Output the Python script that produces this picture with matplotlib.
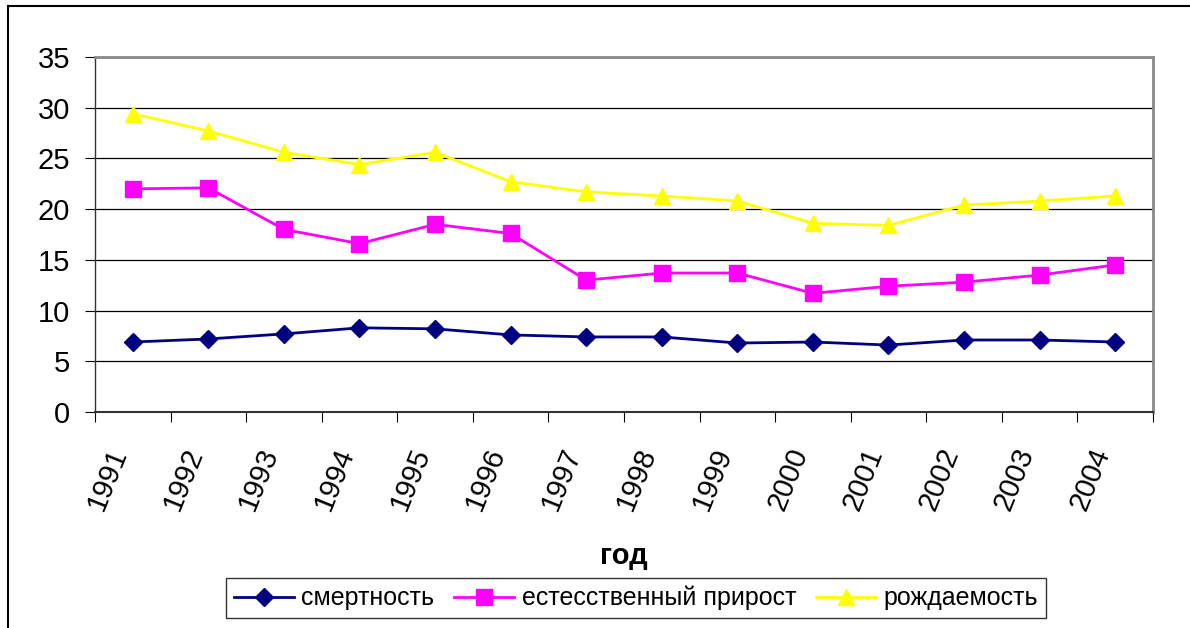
import matplotlib
matplotlib.use('Agg')
import matplotlib.pyplot as plt
from matplotlib.lines import Line2D
import numpy as np

plt.rcParams['font.family'] = ['Liberation Sans', 'DejaVu Sans']

years = ['1991', '1992', '1993', '1994', '1995', '1996', '1997',
         '1998', '1999', '2000', '2001', '2002', '2003', '2004']
mortality = [6.9, 7.2, 7.7, 8.3, 8.2, 7.6, 7.4, 7.4, 6.8, 6.9, 6.6, 7.1, 7.1, 6.9]
natural_growth = [22.0, 22.1, 18.0, 16.6, 18.5, 17.6, 13.0, 13.7, 13.7, 11.7,
                  12.4, 12.8, 13.5, 14.5]
birth_rate = [29.4, 27.7, 25.6, 24.4, 25.6, 22.7, 21.7, 21.3, 20.8, 18.6,
              18.4, 20.4, 20.8, 21.3]

labels = ['смертность', 'естесственный прирост', 'рождаемость']
colors = ['#000080', '#FF00FF', '#FFFF00']
markers = ['D', 's', '^']
msizes = [9, 11, 11]

fig = plt.figure(figsize=(11.9, 6.28), dpi=100)
ax = fig.add_axes([95 / 1190, 1 - 412 / 628, (1153 - 95) / 1190, (412 - 57) / 628])

x = np.arange(len(years))
for vals, lab, col, mk, ms in zip([mortality, natural_growth, birth_rate],
                                  labels, colors, markers, msizes):
    ax.plot(x, vals, color=col, marker=mk, markersize=ms, linewidth=2,
            label=lab, zorder=3)

ax.set_xlim(-0.5, len(years) - 0.5)
ax.set_ylim(0, 35)
ax.set_yticks(range(0, 36, 5))
ax.yaxis.grid(True, color='black', linewidth=0.9)
ax.set_axisbelow(True)

ax.set_xticks(x)
ax.set_xticklabels(years, rotation=68, ha='right')
ax.set_xticks(np.arange(-0.5, len(years), 1), minor=True)
ax.tick_params(axis='x', which='major', length=0, pad=23, labelsize=21)
ax.tick_params(axis='x', which='minor', length=7, width=0.8, direction='out')
ax.tick_params(axis='y', length=7, width=0.8, pad=11, labelsize=21)

for side in ['top', 'right']:
    ax.spines[side].set_color('#888888')
    ax.spines[side].set_linewidth(2)
ax.spines['left'].set_color('#333333')
ax.spines['bottom'].set_color('#333333')
ax.spines['left'].set_linewidth(1)
ax.spines['bottom'].set_linewidth(1.5)

fig.text(624 / 1190, 1 - 556 / 628, 'год', fontsize=21, fontweight='bold',
         ha='center', va='center')

handles = [Line2D([0], [0], color=c, marker=m, markersize=ms, linewidth=2)
           for c, m, ms in zip(colors, markers, msizes)]
leg = fig.legend(handles, labels, loc='center',
                 bbox_to_anchor=(636 / 1190, 1 - 598 / 628),
                 ncol=3, fontsize=18, frameon=True, fancybox=False,
                 handlelength=2.4, handletextpad=0.3, columnspacing=0.8,
                 borderpad=0.3, borderaxespad=0)
leg.get_frame().set_edgecolor('black')
leg.get_frame().set_linewidth(1)

# outer chart frame
left_x = 8 / 1190
top_y = 1 - 6 / 628
fig.add_artist(Line2D([left_x, left_x], [0, top_y], color='black',
                      linewidth=1.5, transform=fig.transFigure))
fig.add_artist(Line2D([left_x, 1], [top_y, top_y], color='black',
                      linewidth=1.5, transform=fig.transFigure))

fig.savefig('out.png', dpi=100)
